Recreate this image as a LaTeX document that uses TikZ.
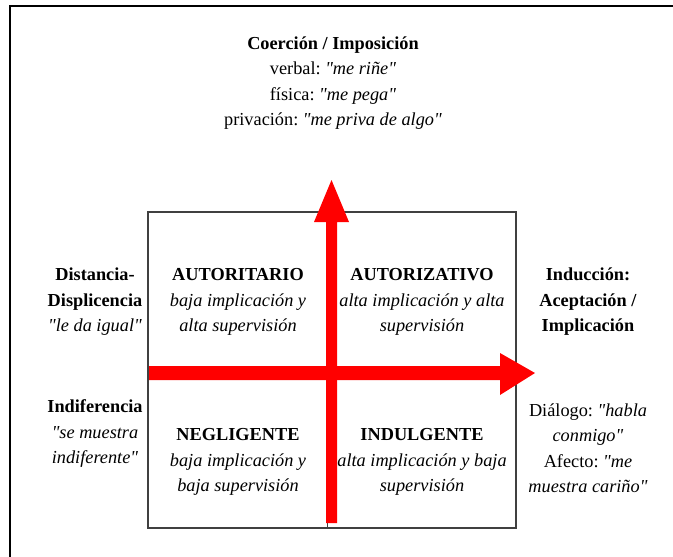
\documentclass[tikz,border=0pt]{standalone}
\usepackage{fontspec}
\setmainfont{Liberation Serif}
\frenchspacing
\definecolor{axisred}{RGB}{255,0,0}
\newcommand{\quoted}[1]{\textit{\textquotedbl#1\textquotedbl}}
\tikzset{
  lbl/.style={align=center, inner sep=0pt, font=\fontsize{18.3}{25.5}\selectfont},
  quadline/.style={draw=black!75, line width=1.2pt},
}
\begin{document}
\begin{tikzpicture}[x=1pt,y=-1pt]
    \useasboundingbox (0,0) rectangle (673,557);
    \draw[line width=2.2pt] (10,557) -- (10,6) -- (673,6);
    \draw[quadline] (148,212) rectangle (516,528);
    \draw[quadline, line width=0.8pt] (327,212) -- (327,528);
    % axes
    \fill[axisred] (149,366) -- (500,366) -- (500,353) -- (535,373) -- (500,395) -- (500,380) -- (149,380) -- cycle;
    \fill[axisred] (326,523) -- (326,222) -- (314,222) -- (331.5,180) -- (349,222) -- (337,222) -- (337,523) -- cycle;
    \node[lbl] (coercion) at (333,83) {\textbf{Coerción / Imposición}\\ verbal: \quoted{me riñe}\\ física: \quoted{me pega}\\ privación: \quoted{me priva de algo}};
    \node[lbl] (autoritario) at (238,302) {\textbf{AUTORITARIO}\\ \textit{baja implicación y}\\ \textit{alta supervisión}};
    \node[lbl] (autorizativo) at (422,302) {\textbf{AUTORIZATIVO}\\ \textit{alta implicación y alta}\\ \textit{supervisión}};
    \node[lbl] (negligente) at (238,462) {\textbf{NEGLIGENTE}\\ \textit{baja implicación y}\\ \textit{baja supervisión}};
    \node[lbl] (indulgente) at (422,462) {\textbf{INDULGENTE}\\ \textit{alta implicación y baja}\\ \textit{supervisión}};
    \node[lbl] (distancia) at (95,302) {\textbf{Distancia-}\\ \textbf{Displicencia}\\ \quoted{le da igual}};
    \node[lbl] (indiferencia) at (95,434) {\textbf{Indiferencia}\\ \textit{\textquotedbl se muestra}\\ \textit{indiferente\textquotedbl}};
    \node[lbl] (induccion) at (588,302) {\textbf{Inducción:}\\ \textbf{Aceptación /}\\ \textbf{Implicación}};
    \node[lbl] (dialogo) at (588,448) {Diálogo: \textit{\textquotedbl habla}\\ \textit{conmigo\textquotedbl}\\ Afecto: \textit{\textquotedbl me}\\ \textit{muestra cariño\textquotedbl}};
\end{tikzpicture}
\end{document}
